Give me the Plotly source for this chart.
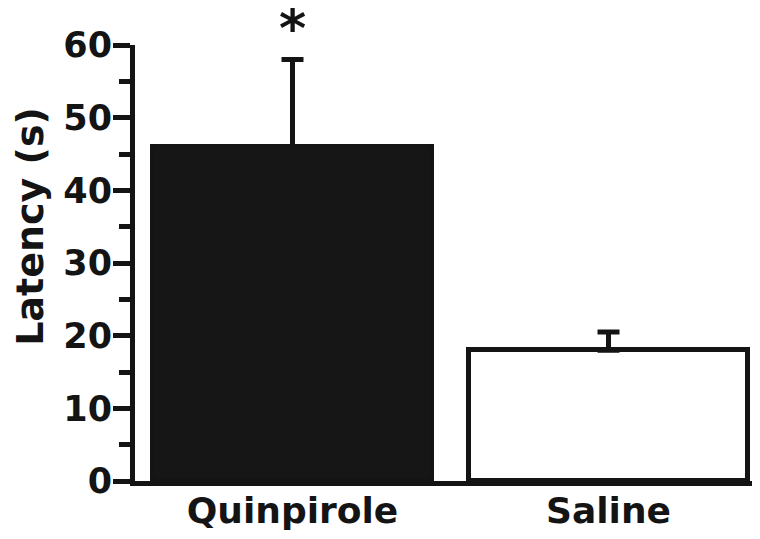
import plotly.graph_objects as go

categories = ["Quinpirole", "Saline"]
latency = [46, 18]
sem_up = [12, 2.5]
fills = ["#161616", "#ffffff"]
y_ticks = [0, 10, 20, 30, 40, 50, 60]

FONT = "DejaVu Sans"
INK = "#141414"

fig = go.Figure()
fig.add_trace(go.Bar(
    x=categories, y=latency,
    width=0.88,
    marker=dict(color=fills, line=dict(color=INK, width=5)),
    error_y=dict(type="data", symmetric=False, array=sem_up, arrayminus=[0, 0],
                 color=INK, thickness=5, width=11),
    cliponaxis=False,
))

fig.add_annotation(x=categories[0], xref="x", y=1.040, yref="paper",
                   text="<b>*</b>", showarrow=False,
                   font=dict(family=FONT, size=52, color=INK), yanchor="middle")

fig.add_annotation(x=-0.166, xref="paper", y=0.585, yref="paper",
                   text="<b>Latency (s)</b>", textangle=-90, showarrow=False,
                   font=dict(family=FONT, size=38, color=INK),
                   xanchor="center", yanchor="middle")

fig.update_layout(
    width=760, height=539,
    margin=dict(l=127, r=0, t=37, b=66),
    plot_bgcolor="white", paper_bgcolor="white",
    showlegend=False,
    bargap=0,
    font=dict(family=FONT, color=INK),
)
fig.update_xaxes(
    range=[-0.4984, 1.5047],
    showline=True, linewidth=5, linecolor=INK,
    ticks="", showgrid=False, automargin=False,
    ticklabelstandoff=-6,
    tickfont=dict(family=FONT, size=36, color=INK, weight="bold"),
)
fig.update_yaxes(
    range=[0, 60], tickvals=y_ticks,
    showline=True, linewidth=5, linecolor=INK,
    ticks="outside", ticklen=17, tickwidth=5, tickcolor=INK,
    minor=dict(dtick=5, ticks="outside", ticklen=11, tickwidth=5, tickcolor=INK),
    showgrid=False, zeroline=False, automargin=False,
    ticklabelstandoff=-6,
    tickfont=dict(family=FONT, size=35, color=INK, weight="bold"),
)

fig.write_html("out.html")
